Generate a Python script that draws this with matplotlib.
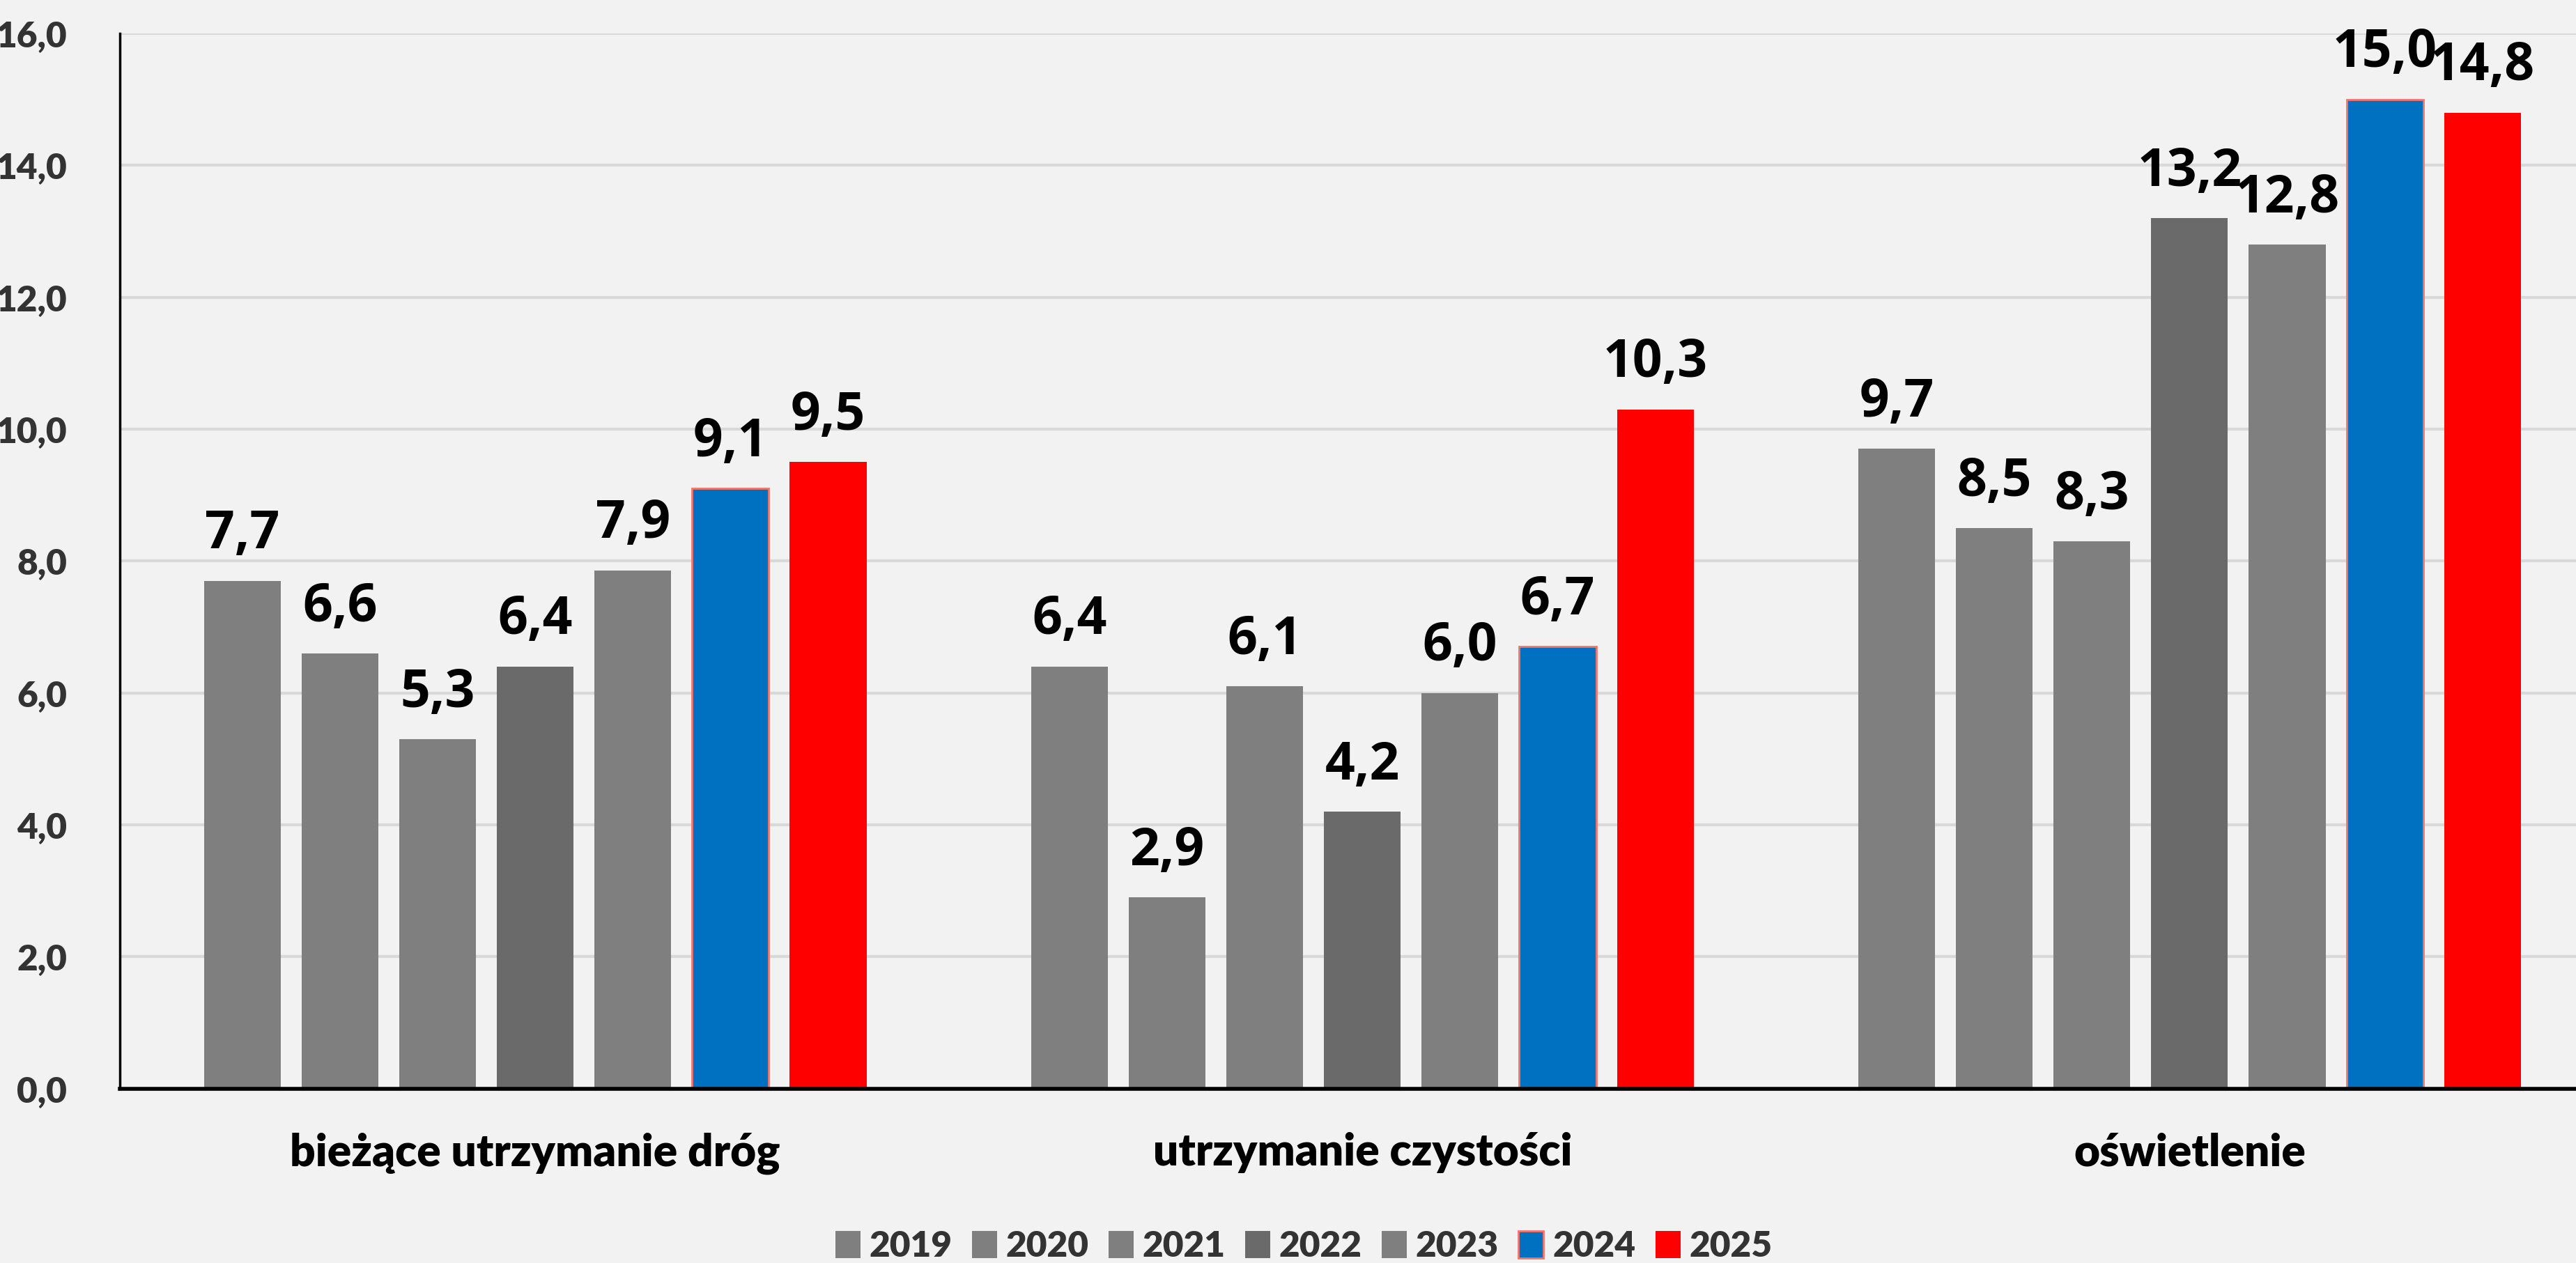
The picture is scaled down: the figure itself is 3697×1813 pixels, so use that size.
import matplotlib
matplotlib.use("Agg")
import matplotlib.pyplot as plt
import numpy as np

categories = ["bieżące utrzymanie dróg", "utrzymanie czystości", "oświetlenie"]
years = ["2019", "2020", "2021", "2022", "2023", "2024", "2025"]
v2019 = [7.7, 6.4, 9.7]
v2020 = [6.6, 2.9, 8.5]
v2021 = [5.3, 6.1, 8.3]
v2022 = [6.4, 4.2, 13.2]
v2023 = [7.86, 6.0, 12.8]
v2024 = [9.1, 6.7, 15.0]
v2025 = [9.5, 10.3, 14.8]
series = [v2019, v2020, v2021, v2022, v2023, v2024, v2025]

colors = ["#7F7F7F", "#7F7F7F", "#7F7F7F", "#6A6A6A", "#7F7F7F", "#0070C0", "#FF0000"]
edges = ["none", "none", "none", "none", "none", "#F4756A", "none"]

bg = "#F2F2F2"
fig = plt.figure(figsize=(36.98, 18.13), dpi=100, facecolor=bg)
ax = fig.add_axes([0.0466, 0.138, 0.9534, 0.8355], facecolor=bg)

x = np.arange(len(categories))
pitch = 0.118
width = 0.0927
for i, vals in enumerate(series):
    pos = x + (i - 3) * pitch
    ax.bar(pos, vals, width, color=colors[i], edgecolor=edges[i], linewidth=2,
           label=years[i], zorder=3)
    for p, v in zip(pos, vals):
        ax.text(p, v + 0.3, f"{v:.1f}".replace(".", ","), ha="center", va="bottom",
                fontsize=54, fontweight="bold", family="Open Sans", color="black", zorder=4)

ax.set_ylim(0, 16)
ax.set_xlim(-0.502, 2.468)
ax.set_yticks(np.arange(0, 17, 2))
ax.set_yticklabels([f"{t:.1f}".replace(".", ",") for t in np.arange(0, 17, 2)],
                   fontsize=37, fontweight="heavy", family="Lato", color="#333333")
ax.tick_params(axis="y", length=0, pad=55)
ax.set_xticks(x)
ax.set_xticklabels(categories, fontsize=46, fontweight="heavy", family="Lato", color="black")
ax.tick_params(axis="x", length=0, pad=45)

ax.grid(axis="y", color="#D9D9D9", linewidth=3, zorder=0)
for s in ["top", "right"]:
    ax.spines[s].set_visible(False)
ax.spines["left"].set_linewidth(2.5)
ax.spines["bottom"].set_linewidth(4)
ax.spines["left"].set_zorder(5)
ax.spines["bottom"].set_zorder(5)

leg = fig.legend(loc="center", bbox_to_anchor=(0.506, 0.013), ncol=7, frameon=False,
                 prop={"family": "Lato", "weight": "heavy", "size": 37},
                 handlelength=0.7, handleheight=0.8, handletextpad=0.25, columnspacing=0.55)
for t in leg.get_texts():
    t.set_color("#333333")

fig.savefig("out.png", dpi=100, facecolor=bg)
